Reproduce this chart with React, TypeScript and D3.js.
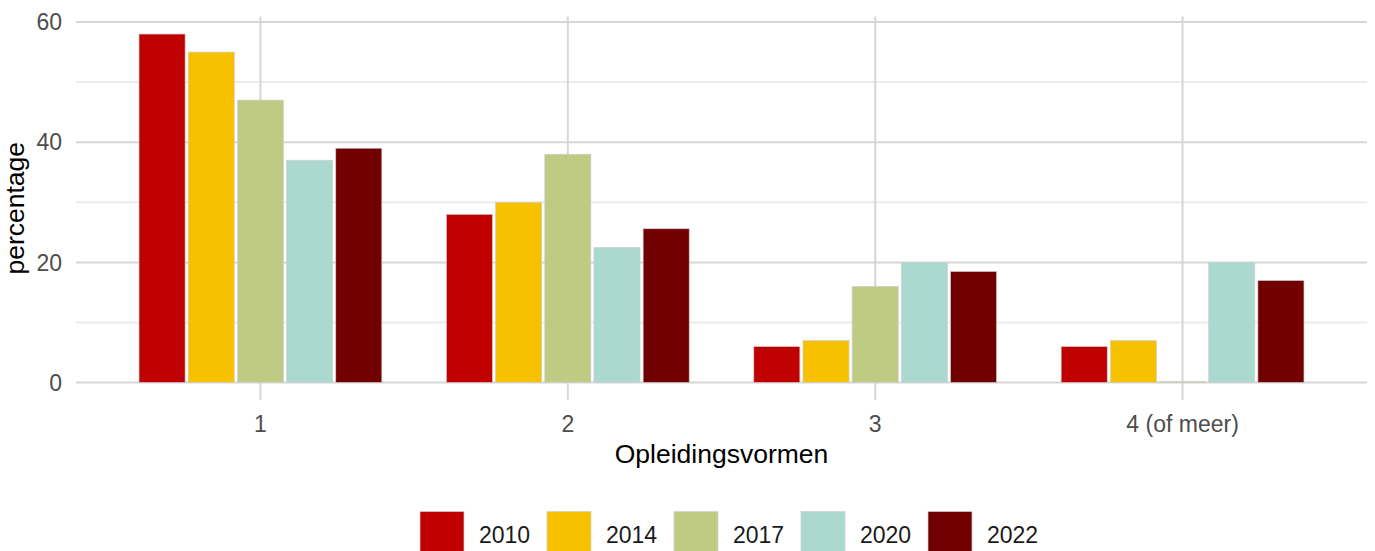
import React from "react";
import * as d3 from "d3";

const categories = ["1", "2", "3", "4 (of meer)"];
const years = ["2010", "2014", "2017", "2020", "2022"];
const colors = ["#C00000", "#F8C100", "#BFCB83", "#ABD9CF", "#730000"];
const values2010 = [58, 28, 6, 6];
const values2014 = [55, 30, 7, 7];
const values2017 = [47, 38, 16, 0.2];
const values2020 = [37, 22.5, 20, 20];
const values2022 = [39, 25.6, 18.5, 17];
const seriesValues = [values2010, values2014, values2017, values2020, values2022];
const yTicks = [0, 20, 40, 60];
const yMinor = [10, 30, 50];

const W = 1375;
const H = 551;
const panel = { left: 76, right: 1367, top: 16.6, bottom: 400 };
const FONT = "'Liberation Sans', Arial, sans-serif";

export default function App() {
  const x = d3
    .scaleBand<string>()
    .domain(categories)
    .range([panel.left, panel.right])
    .paddingInner(0)
    .paddingOuter(0.1);
  const step = x.step();
  const xSub = d3
    .scaleBand<string>()
    .domain(years)
    .range([-0.4 * step, 0.4 * step]);
  const barW = (0.75 * step) / years.length;
  const y = d3.scaleLinear().domain([-2.9, 60.9]).range([panel.bottom, panel.top]);
  const cx = (c: string) => (x(c) as number) + step / 2;

  return (
    <svg
      width={W}
      height={H}
      style={{ position: "absolute", left: 0, top: 0, background: "#fff" }}
      fontFamily={FONT}
    >
      {yMinor.map((t) => (
        <line key={"mn" + t} x1={panel.left} x2={panel.right} y1={y(t)} y2={y(t)} stroke="#ececec" strokeWidth={2} />
      ))}
      {yTicks.map((t) => (
        <line key={"mj" + t} x1={panel.left} x2={panel.right} y1={y(t)} y2={y(t)} stroke="#d6d6d6" strokeWidth={2} />
      ))}
      {categories.map((c) => (
        <line key={"v" + c} x1={cx(c)} x2={cx(c)} y1={panel.top} y2={panel.bottom} stroke="#d6d6d6" strokeWidth={2} />
      ))}
      {categories.map((c, ci) =>
        years.map((yr, yi) => {
          const v = seriesValues[yi][ci];
          const sx = cx(c) + (xSub(yr) as number) + xSub.bandwidth() / 2 - barW / 2;
          return (
            <rect
              key={c + yr}
              x={sx}
              y={y(v)}
              width={barW}
              height={y(0) - y(v)}
              fill={colors[yi]}
              stroke="#d0d0d0"
              strokeWidth={0.7}
            />
          );
        })
      )}
      {yTicks.map((t) => (
        <text key={"yl" + t} x={62} y={y(t)} dy="0.36em" textAnchor="end" fontSize={23} fill="#4D4D4D">
          {t}
        </text>
      ))}
      {categories.map((c) => (
        <text key={"xl" + c} x={cx(c)} y={432} textAnchor="middle" fontSize={23} fill="#4D4D4D">
          {c}
        </text>
      ))}
      <text x={(panel.left + panel.right) / 2} y={463} textAnchor="middle" fontSize={26.5} fill="#000">
        Opleidingsvormen
      </text>
      <text
        transform={`translate(24,${(panel.top + panel.bottom) / 2}) rotate(-90)`}
        textAnchor="middle"
        fontSize={26.5}
        fill="#000"
      >
        percentage
      </text>
      {years.map((yr, i) => {
        const lx = 420 + i * 127;
        return (
          <g key={"lg" + yr}>
            <rect x={lx} y={511.5} width={44} height={44} fill={colors[i]} stroke="#d0d0d0" strokeWidth={0.7} />
            <text x={lx + 59} y={542.5} fontSize={23} fill="#1a1a1a">
              {yr}
            </text>
          </g>
        );
      })}
    </svg>
  );
}
